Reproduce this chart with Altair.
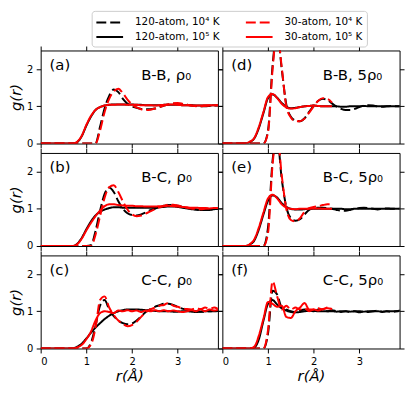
import altair as alt
import pandas as pd

FONT = "DejaVu Sans"

# r grid (Angstrom)
R = [0.0, 0.5, 0.6, 0.7, 0.8, 0.9, 1.0, 1.1, 1.2, 1.3, 1.4, 1.5, 1.6, 1.7, 1.8, 1.9,
     2.0, 2.1, 2.2, 2.3, 2.4, 2.5, 2.6, 2.7, 2.8, 2.9, 3.0, 3.1, 3.2, 3.3, 3.4, 3.5,
     3.6, 3.7, 3.8, 3.9]

SERIES = ["120-atom, 10⁴ K", "30-atom, 10⁴ K", "120-atom, 10⁵ K", "30-atom, 10⁵ K"]
COLORS = ["#000000", "#ff0000", "#000000", "#ff0000"]
DASHES = [[10, 4], [10, 4], [1, 0], [1, 0]]

PANEL_TAGS = ["(a)", "(b)", "(c)", "(d)", "(e)", "(f)"]
PANEL_PAIRS = ["B-B, ρ₀", "B-C, ρ₀", "C-C, ρ₀", "B-B, 5ρ₀", "B-C, 5ρ₀", "C-C, 5ρ₀"]

N = None

# (a) B-B rho0
A_120_4 = [0, 0, 0, 0, 0, 0, 0, 0, 0.0, 0.45, 0.95, 1.28, 1.45, 1.38, 1.2, 1.07, 1.0, 0.96, 0.93, 0.92, 0.92, 0.94, 0.98, 1.02, 1.05, 1.07, 1.07, 1.06, 1.04, 1.02, 1.01, 1.0, 1.0, 1.01, 1.02, 1.02]
A_30_4 = [0, 0, 0, 0, 0, 0, 0, 0, 0.0, 0.35, 0.85, 1.2, 1.4, 1.47, 1.35, 1.18, 1.05, 0.97, 0.92, 0.9, 0.91, 0.94, 0.98, 1.02, 1.05, 1.08, 1.09, 1.07, 1.04, 1.02, 1.0, 1.0, 1.01, 1.02, 1.03, 1.03]
A_120_5 = [0, 0, 0, 0.0, 0.04, 0.2, 0.48, 0.72, 0.9, 0.98, 1.02, 1.04, 1.05, 1.05, 1.05, 1.05, 1.05, 1.04, 1.04, 1.03, 1.03, 1.03, 1.03, 1.04, 1.04, 1.04, 1.04, 1.03, 1.03, 1.03, 1.02, 1.02, 1.02, 1.02, 1.03, 1.03]
A_30_5 = [0, 0, 0, 0.0, 0.05, 0.21, 0.5, 0.74, 0.9, 0.98, 1.02, 1.04, 1.04, 1.05, 1.05, 1.04, 1.04, 1.04, 1.03, 1.03, 1.03, 1.02, 1.03, 1.04, 1.05, 1.05, 1.04, 1.03, 1.03, 1.02, 1.02, 1.02, 1.03, 1.03, 1.03, 1.02]

# (b) B-C rho0
B_120_4 = [0, 0, 0, 0, 0, 0, 0, 0.02, 0.4, 0.95, 1.4, 1.57, 1.45, 1.2, 1.0, 0.88, 0.83, 0.82, 0.85, 0.9, 0.96, 1.0, 1.05, 1.08, 1.1, 1.1, 1.08, 1.05, 1.02, 1.0, 0.98, 0.97, 0.97, 0.98, 0.99, 1.0]
B_30_4 = [0, 0, 0, 0, 0, 0, 0, 0, 0.3, 0.8, 1.3, 1.58, 1.63, 1.45, 1.2, 0.98, 0.85, 0.8, 0.82, 0.87, 0.93, 0.99, 1.04, 1.08, 1.11, 1.11, 1.09, 1.06, 1.03, 1.01, 1.0, 0.99, 1.0, 1.01, 1.02, 1.02]
B_120_5 = [0, 0, 0, 0.0, 0.06, 0.22, 0.45, 0.66, 0.82, 0.92, 0.98, 1.02, 1.04, 1.04, 1.03, 1.03, 1.03, 1.03, 1.03, 1.03, 1.03, 1.03, 1.04, 1.05, 1.06, 1.06, 1.05, 1.03, 1.01, 0.99, 0.98, 0.97, 0.97, 0.97, 0.99, 1.0]
B_30_5 = [0, 0, 0, 0.0, 0.05, 0.2, 0.42, 0.62, 0.8, 0.95, 1.07, 1.12, 1.12, 1.1, 1.09, 1.08, 1.08, 1.07, 1.07, 1.06, 1.06, 1.06, 1.07, 1.07, 1.08, 1.07, 1.06, 1.05, 1.04, 1.03, 1.03, 1.02, 1.02, 1.01, 1.02, 1.02]

# (c) C-C rho0
C_120_4 = [0, 0, 0, 0, 0, 0, 0, 0.15, 0.6, 1.15, 1.3, 1.05, 0.87, 0.75, 0.68, 0.65, 0.67, 0.75, 0.86, 0.98, 1.06, 1.12, 1.16, 1.2, 1.2, 1.17, 1.12, 1.07, 1.04, 1.02, 1.0, 0.99, 0.99, 1.0, 1.0, 1.01]
C_30_4 = [0, 0, 0, 0, 0, 0, 0, 0.1, 0.55, 1.3, 1.4, 1.1, 0.9, 0.75, 0.66, 0.6, 0.63, 0.72, 0.85, 0.97, 1.05, 1.1, 1.15, 1.17, 1.23, 1.15, 1.12, 1.08, 1.06, 1.05, 1.08, 1.06, 1.1, 1.07, 1.1, 1.05]
C_120_5 = [0, 0, 0, 0.0, 0.05, 0.13, 0.27, 0.42, 0.56, 0.68, 0.79, 0.88, 0.95, 1.0, 1.03, 1.05, 1.05, 1.05, 1.04, 1.03, 1.02, 1.01, 1.0, 1.0, 1.0, 0.99, 0.99, 1.0, 1.0, 0.99, 0.98, 0.99, 1.0, 1.0, 1.01, 1.01]
C_30_5 = [0, 0, 0, 0.0, 0.03, 0.1, 0.25, 0.45, 0.75, 0.95, 1.0, 0.98, 0.95, 1.02, 1.0, 1.03, 1.0, 1.02, 0.98, 1.02, 1.0, 1.03, 1.0, 1.03, 1.0, 1.02, 1.0, 0.98, 1.0, 1.03, 1.0, 1.05, 1.0, 1.05, 1.02, 1.05]

# (d) B-B 5rho0
D_120_4 = [0, 0, 0, 0, 0, 0, 0.35, 2.1, 3.0, 2.0, 1.05, 0.72, 0.62, 0.6, 0.68, 0.85, 1.02, 1.15, 1.2, 1.17, 1.08, 0.99, 0.93, 0.9, 0.9, 0.93, 0.98, 1.02, 1.03, 1.02, 1.0, 0.99, 1.0, 1.01, 1.0, 1.0]
D_30_4 = [0, 0, 0, 0, 0, 0, 0.3, 2.0, 3.0, 2.05, 1.0, 0.7, 0.6, 0.6, 0.67, 0.83, 1.0, 1.15, 1.22, 1.2, 1.1, N, N, N, N, N, N, N, N, N, N, N, N, N, N, N]
D_120_5 = [0, 0, 0.04, 0.14, 0.42, 0.82, 1.22, 1.32, 1.23, 1.09, 0.99, 0.95, 0.96, 0.98, 1.0, 1.01, 1.02, 1.01, 1.0, 1.0, 1.0, 1.0, 0.99, 0.99, 1.0, 1.0, 1.0, 1.01, 1.0, 1.0, 1.0, 1.0, 1.0, 1.0, 1.0, 1.0]
D_30_5 = [0, 0, 0.05, 0.15, 0.45, 0.85, 1.25, 1.33, 1.22, 1.07, 0.97, 0.94, 0.95, 0.98, 1.0, 1.01, 1.02, 1.01, 1.0, 1.0, 1.0, N, N, N, N, N, N, N, N, N, N, N, N, N, N, N]

# (e) B-C 5rho0
E_120_4 = [0, 0, 0, 0, 0, 0, 0.5, 2.3, 2.9, 1.8, 1.05, 0.75, 0.68, 0.72, 0.85, 0.97, 1.02, 1.03, 1.03, 1.02, 1.0, 0.97, 0.95, 0.95, 0.97, 1.0, 1.02, 1.03, 1.02, 1.0, 0.98, 1.0, 1.01, 1.0, 1.0, 1.0]
E_30_4 = [0, 0, 0, 0, 0, 0, 0.35, 2.2, 3.0, 1.9, 1.0, 0.7, 0.66, 0.75, 0.92, 1.02, 1.05, 1.07, 1.1, 1.12, 1.12, N, N, N, N, N, N, N, N, N, N, N, N, N, N, N]
E_120_5 = [0, 0, 0.04, 0.15, 0.45, 0.85, 1.22, 1.36, 1.3, 1.15, 1.05, 1.0, 0.98, 0.98, 0.99, 1.0, 1.0, 1.0, 1.0, 1.0, 1.0, 1.0, 1.0, 0.99, 0.99, 1.0, 1.0, 1.0, 1.0, 1.0, 1.0, 1.0, 1.0, 1.0, 1.0, 1.0]
E_30_5 = [0, 0, 0.05, 0.18, 0.5, 0.9, 1.28, 1.38, 1.28, 1.12, 1.03, 1.0, 0.99, 1.0, 1.0, 1.0, 1.01, 1.01, 1.0, 1.0, 1.0, N, N, N, N, N, N, N, N, N, N, N, N, N, N, N]

# (f) C-C 5rho0
F_120_4 = [0, 0, 0, 0, 0, 0, 0.4, 1.55, 1.45, 1.1, 1.05, 1.0, 0.97, 1.02, 1.05, 1.02, 1.0, 1.05, 1.02, 1.0, 1.03, 1.0, 0.98, 1.0, 0.98, 1.0, 0.97, 1.0, 0.98, 1.0, 1.02, 0.98, 1.0, 0.98, 1.0, 1.02]
F_30_4 = [0, 0, 0, 0, 0, 0, 0.5, 1.8, 1.4, 1.05, 1.15, 1.05, 1.1, 1.05, 1.08, 1.0, 1.05, 1.08, 1.05, 1.1, 1.05, N, N, N, N, N, N, N, N, N, N, N, N, N, N, N]
F_120_5 = [0, 0, 0, 0.03, 0.25, 0.75, 1.2, 1.3, 1.18, 1.08, 1.02, 0.98, 0.97, 0.98, 1.0, 1.01, 1.01, 1.0, 1.0, 1.0, 1.0, 0.99, 1.0, 1.0, 0.99, 1.0, 1.0, 0.99, 1.0, 1.0, 1.0, 0.99, 1.0, 1.0, 1.0, 1.01]
F_30_5 = [0, 0, 0, 0.05, 0.35, 0.8, 1.25, 1.2, 1.12, 1.15, 0.85, 0.82, 1.0, 1.1, 1.22, 1.05, 1.05, 1.02, 1.06, 1.08, 1.06, N, N, N, N, N, N, N, N, N, N, N, N, N, N, N]

PANEL_DATA = [
    [A_120_4, A_30_4, A_120_5, A_30_5],
    [B_120_4, B_30_4, B_120_5, B_30_5],
    [C_120_4, C_30_4, C_120_5, C_30_5],
    [D_120_4, D_30_4, D_120_5, D_30_5],
    [E_120_4, E_30_4, E_120_5, E_30_5],
    [F_120_4, F_30_4, F_120_5, F_30_5],
]

PW, PH = 179, 94

LEG = alt.Legend(
    title=None, orient="none", legendX=51.5, legendY=-40, columns=2, direction="horizontal",
    symbolType="M-2,0L2,0", symbolSize=182, symbolStrokeWidth=2, symbolOffset=6.75,
    labelFont=FONT, labelFontSize=10.5, labelColor="#000000", labelLimit=0,
    fillColor="#ffffff", strokeColor="#cccccc", cornerRadius=3, padding=3.5,
    columnPadding=22, rowPadding=1, labelOffset=17.5,
)


def panel(i, show_x, show_y):
    rows = []
    for s, vals in zip(SERIES, PANEL_DATA[i]):
        for r, g in zip(R, vals):
            if g is not None:
                rows.append({"r": r, "g": g, "series": s})
    df = pd.DataFrame(rows)
    xs = alt.Scale(domain=[0, 3.88], nice=False, zero=False)
    ys = alt.Scale(domain=[0, 2.5], nice=False)
    color = alt.Color("series:N", scale=alt.Scale(domain=SERIES, range=COLORS), legend=LEG)
    dash = alt.StrokeDash("series:N", scale=alt.Scale(domain=SERIES, range=DASHES), legend=LEG)

    if show_x:
        xax = alt.Axis(values=[0, 1, 2, 3], labels=True, title="r(Å)", titleFontStyle="italic", titlePadding=2)
    else:
        xax = alt.Axis(values=[0, 1, 2, 3], labels=False, title=None)
    if show_y:
        yax = alt.Axis(values=[0, 1, 2], labels=True, title="g(r)", titleFontStyle="italic", titlePadding=3)
    else:
        yax = alt.Axis(values=[0, 1, 2], labels=False, title=None)

    black = (
        alt.Chart(df[df["series"].isin([SERIES[0], SERIES[2]])])
        .mark_line(strokeWidth=2, clip=True, interpolate="monotone")
        .encode(
            x=alt.X("r:Q", scale=xs, axis=xax),
            y=alt.Y("g:Q", scale=ys, axis=yax),
            color=color, strokeDash=dash,
        )
    )
    red = (
        alt.Chart(df[df["series"].isin([SERIES[1], SERIES[3]])])
        .mark_line(strokeWidth=2, clip=True, interpolate="monotone")
        .encode(
            x=alt.X("r:Q", scale=xs, axis=None),
            y=alt.Y("g:Q", scale=ys, axis=None),
            color=color, strokeDash=dash,
        )
    )
    ghost = (
        alt.Chart(df)
        .mark_line(opacity=0)
        .encode(
            x=alt.X("r:Q", scale=xs, axis=alt.Axis(orient="top", values=[0, 1, 2, 3], labels=False, title=None)),
            y=alt.Y("g:Q", scale=ys, axis=alt.Axis(orient="right", values=[0, 1, 2], labels=False, title=None)),
            detail="series:N",
        )
    )
    tag = (
        alt.Chart(pd.DataFrame({"t": [PANEL_TAGS[i]]}))
        .mark_text(align="left", baseline="alphabetic", font=FONT, fontSize=15, color="#000000")
        .encode(text="t:N", x=alt.value(9), y=alt.value(19.5))
    )
    pair = (
        alt.Chart(pd.DataFrame({"t": [PANEL_PAIRS[i]]}))
        .mark_text(align="left", baseline="alphabetic", font=FONT, fontSize=15, color="#000000")
        .encode(text="t:N", x=alt.value(101.5), y=alt.value(29.5))
    )
    return (
        alt.layer(black, red, ghost, tag, pair)
        .resolve_axis(x="independent", y="independent")
        .properties(width=PW, height=PH)
    )


panels = []
for k in range(3):
    panels.append(panel(k, k == 2, True))
    panels.append(panel(k + 3, k == 2, False))

chart = (
    alt.concat(*panels, columns=2, spacing={"row": 9.5, "column": 4.5}, bounds="flush")
    .properties(padding={"left": 0, "top": 0, "right": 2, "bottom": 2})
    .configure_view(stroke="#000000", strokeWidth=1)
    .configure_axis(
        domain=False, tickColor="#000000", tickSize=4.5, tickWidth=1,
        labelFont=FONT, labelFontSize=10, labelColor="#000000", labelPadding=3.5,
        titleFont=FONT, titleFontSize=15, titleFontWeight="normal", titleColor="#000000",
        grid=False,
    )
)

chart.save("out.html", embed_options={"renderer": "svg", "actions": False})
